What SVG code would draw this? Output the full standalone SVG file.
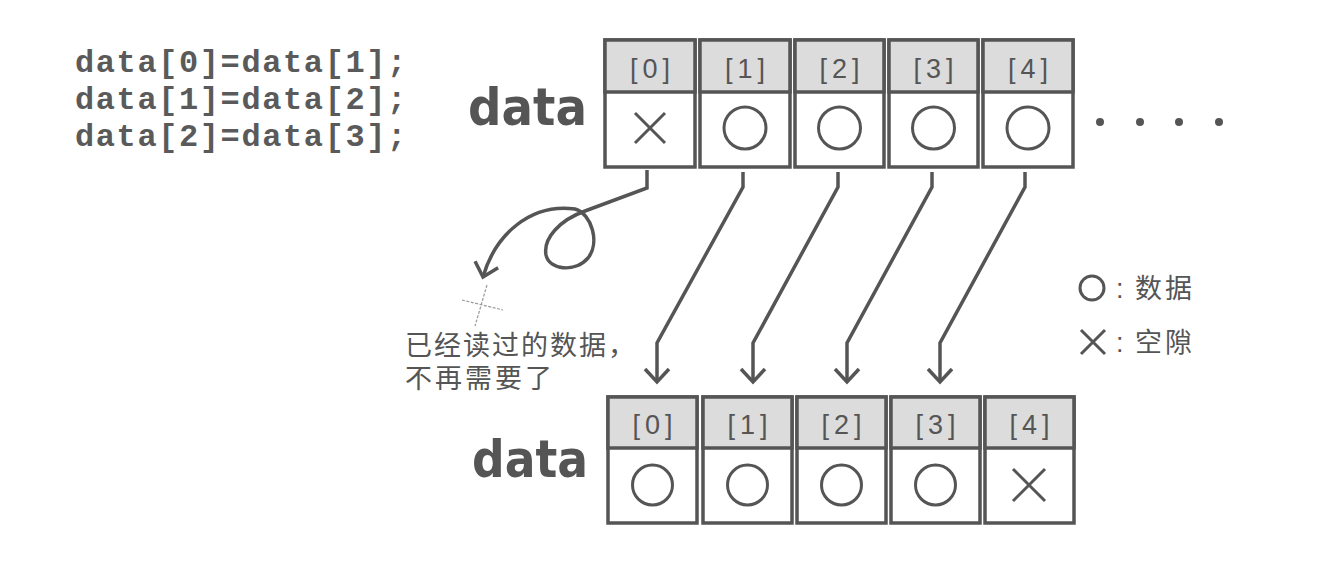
<svg xmlns="http://www.w3.org/2000/svg" width="1326" height="564" viewBox="0 0 1326 564">
<style>
.cell{fill:#fff;stroke:#555;stroke-width:3.5}
.hdr{fill:#dcdcdc;stroke:#555;stroke-width:3.5}
.idx{font-family:"Liberation Sans",Arial,sans-serif;font-size:27px;fill:#555;text-anchor:middle}
.sym{fill:none;stroke:#555;stroke-width:3}
.code{font-family:"Liberation Mono","Courier New",monospace;font-weight:bold;font-size:32px;letter-spacing:1.6px;fill:#5a5a5a}
.big{font-family:"DejaVu Sans",sans-serif;font-weight:bold;font-size:52px;fill:#555}
.cjk{font-family:"Liberation Sans","Noto Sans CJK SC",sans-serif;font-size:27px;fill:#555}
.conn{fill:none;stroke:#555;stroke-width:3.5;stroke-linejoin:miter;marker-end:url(#arr)}
.pencil{stroke:#999;stroke-width:1.2;stroke-dasharray:3 1.5}
</style>
<defs>
<marker id="arr" markerUnits="userSpaceOnUse" markerWidth="30" markerHeight="30" refX="0" refY="0" viewBox="-16 -15 20 30" orient="auto" overflow="visible">
<path d="M-13,-12 L0,0 L-13,12" fill="none" stroke="#555" stroke-width="3.5"/>
</marker>
</defs>
<rect width="1326" height="564" fill="#fff"/>

<g id="code">
<text class="code" x="75" y="72">data[0]=data[1];</text>
<text class="code" x="75" y="109">data[1]=data[2];</text>
<text class="code" x="75" y="146">data[2]=data[3];</text>
</g>

<g id="label-top"><text class="big" x="468" y="125" textLength="119" lengthAdjust="spacingAndGlyphs">data</text></g>
<g id="label-bottom"><text class="big" x="472" y="477" textLength="116" lengthAdjust="spacingAndGlyphs">data</text></g>

<g id="top-0"><rect class="cell" x="605" y="40" width="90" height="127"/><rect class="hdr" x="605" y="40" width="90" height="52"/><text class="idx" x="650" y="78" textLength="40" lengthAdjust="spacing">[0]</text><path class="sym" d="M635,113 L665,143 M665,113 L635,143"/></g>
<g id="top-1"><rect class="cell" x="700" y="40" width="90" height="127"/><rect class="hdr" x="700" y="40" width="90" height="52"/><text class="idx" x="745" y="78" textLength="40" lengthAdjust="spacing">[1]</text><circle class="sym" cx="745" cy="128" r="21"/></g>
<g id="top-2"><rect class="cell" x="795" y="40" width="89" height="127"/><rect class="hdr" x="795" y="40" width="89" height="52"/><text class="idx" x="839.5" y="78" textLength="40" lengthAdjust="spacing">[2]</text><circle class="sym" cx="839.5" cy="128" r="21"/></g>
<g id="top-3"><rect class="cell" x="889" y="40" width="89" height="127"/><rect class="hdr" x="889" y="40" width="89" height="52"/><text class="idx" x="933.5" y="78" textLength="40" lengthAdjust="spacing">[3]</text><circle class="sym" cx="933.5" cy="128" r="21"/></g>
<g id="top-4"><rect class="cell" x="983" y="40" width="90" height="127"/><rect class="hdr" x="983" y="40" width="90" height="52"/><text class="idx" x="1028" y="78" textLength="40" lengthAdjust="spacing">[4]</text><circle class="sym" cx="1028" cy="128" r="21"/></g>

<g id="ellipsis" fill="#555"><circle cx="1100" cy="122" r="4"/><circle cx="1140" cy="122" r="4"/><circle cx="1179" cy="122" r="4"/><circle cx="1219" cy="122" r="4"/></g>

<g id="bot-0"><rect class="cell" x="608" y="397" width="89" height="126"/><rect class="hdr" x="608" y="397" width="89" height="51"/><text class="idx" x="652.5" y="434" textLength="40" lengthAdjust="spacing">[0]</text><circle class="sym" cx="652.5" cy="485" r="20"/></g>
<g id="bot-1"><rect class="cell" x="703" y="397" width="89" height="126"/><rect class="hdr" x="703" y="397" width="89" height="51"/><text class="idx" x="747.5" y="434" textLength="40" lengthAdjust="spacing">[1]</text><circle class="sym" cx="747.5" cy="485" r="20"/></g>
<g id="bot-2"><rect class="cell" x="797" y="397" width="89" height="126"/><rect class="hdr" x="797" y="397" width="89" height="51"/><text class="idx" x="841.5" y="434" textLength="40" lengthAdjust="spacing">[2]</text><circle class="sym" cx="841.5" cy="485" r="20"/></g>
<g id="bot-3"><rect class="cell" x="891" y="397" width="89" height="126"/><rect class="hdr" x="891" y="397" width="89" height="51"/><text class="idx" x="935.5" y="434" textLength="40" lengthAdjust="spacing">[3]</text><circle class="sym" cx="935.5" cy="485" r="20"/></g>
<g id="bot-4"><rect class="cell" x="985" y="397" width="89" height="126"/><rect class="hdr" x="985" y="397" width="89" height="51"/><text class="idx" x="1029.5" y="434" textLength="40" lengthAdjust="spacing">[4]</text><path class="sym" d="M1013,469 L1045,501 M1045,469 L1013,501"/></g>

<g id="connectors">
<path class="conn" d="M647,170 V188 L585,211 C560,220 543,238 546,255 C549,270 575,273 588,258 C600,243 592,214 575,209 C530,203 495,235 483,277"/>
<path class="conn" d="M743,172 V187 L657,343 V382"/>
<path class="conn" d="M838,172 V187 L753,343 V382"/>
<path class="conn" d="M932,172 V187 L847,343 V382"/>
<path class="conn" d="M1025,172 V187 L940,343 V382"/>
</g>

<g id="pencil-mark">
<line class="pencil" x1="462" y1="300" x2="503" y2="310"/>
<line class="pencil" x1="487" y1="285" x2="475" y2="326"/>
</g>

<g id="note">
<text class="cjk" x="405" y="355" letter-spacing="2">已经读过的数据，</text>
<text class="cjk" x="405" y="388" letter-spacing="3">不再需要了</text>
</g>

<g id="legend">
<circle class="sym" cx="1092" cy="288" r="12" stroke-width="2.5"/>
<text class="cjk" x="1116" y="298">:<tspan x="1135" letter-spacing="3">数据</tspan></text>
<path class="sym" stroke-width="2.5" d="M1081,330 L1105,354 M1105,330 L1081,354"/>
<text class="cjk" x="1116" y="352">:<tspan x="1135" letter-spacing="3">空隙</tspan></text>
</g>
</svg>
